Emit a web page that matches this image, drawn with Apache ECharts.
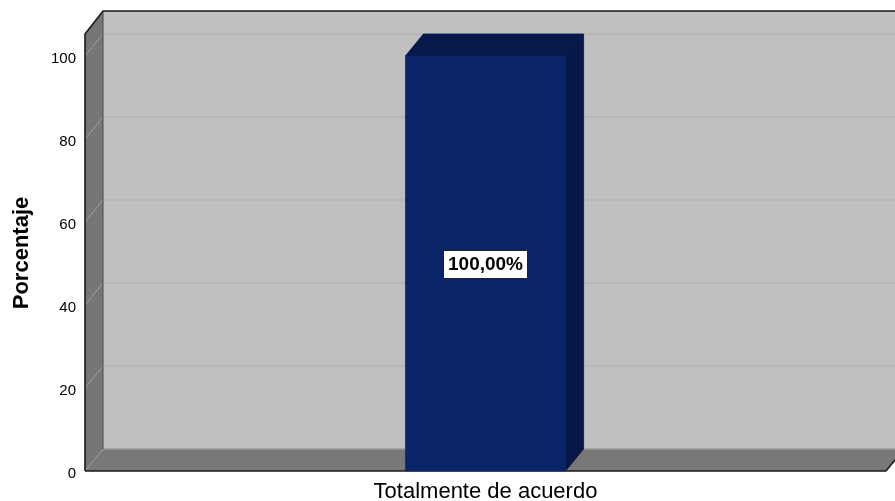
<!DOCTYPE html>
<html>
<head>
<meta charset="utf-8">
<script src="https://cdn.jsdelivr.net/npm/echarts@6/dist/echarts.min.js"></script>
<style>html,body{margin:0;padding:0;background:#fff;}#c{width:895px;height:501px;}</style>
</head>
<body>
<div id="c"></div>
<script>
const categories = ['Totalmente de acuerdo'];
const values = [100];
const valueLabels = ['100,00%'];
const yTicks = [0, 20, 40, 60, 80, 100];
const yTitle = 'Porcentaje';

const FONT = '"Liberation Sans", Arial, sans-serif';
const DX = 18, DY = 22;

const chart = echarts.init(document.getElementById('c'), null, {renderer: 'canvas'});

function wallsRender(params, api) {
  const cs = params.coordSys;
  const L = cs.x, R = cs.x + cs.width, T = cs.y, B = cs.y + cs.height;
  const top = T - DY;
  const ch = [];
  ch.push({type: 'rect', shape: {x: L + DX, y: top - DY - 1, width: R - L + DX, height: B - top + 1}, style: {fill: '#c0c0c0'}});
  ch.push({type: 'polygon', shape: {points: [[L, top], [L + DX, top - DY - 1], [L + DX, B - DY], [L, B]]}, style: {fill: '#767676'}});
  yTicks.forEach(v => {
    if (v === 0) return;
    const y = api.coord([0, v])[1];
    ch.push({type: 'line', shape: {x1: L + DX, y1: y - DY, x2: R + DX, y2: y - DY}, style: {stroke: '#b4b4b4', lineWidth: 1.5}});
    ch.push({type: 'line', shape: {x1: L, y1: y, x2: L + DX, y2: y - DY}, style: {stroke: '#a0a0a0', lineWidth: 1}});
  });
  ch.push({type: 'polygon', shape: {points: [[L, B], [L + DX, B - DY], [R + DX, B - DY], [R, B]]}, style: {fill: '#787878'}});
  ch.push({type: 'line', shape: {x1: L + DX, y1: B - DY, x2: R + DX, y2: B - DY}, style: {stroke: '#9c9c9c', lineWidth: 1.5}});
  ch.push({type: 'line', shape: {x1: L, y1: B, x2: L + DX, y2: B - DY}, style: {stroke: '#9a9a9a', lineWidth: 1}});
  ch.push({type: 'line', shape: {x1: L + DX, y1: top - DY, x2: L + DX, y2: B - DY}, style: {stroke: '#4a4a4a', lineWidth: 1}});
  ch.push({type: 'polyline', shape: {points: [[L, B], [L, top], [L + DX, top - DY - 1], [R + DX, top - DY - 1]]}, style: {stroke: '#1a1a1a', lineWidth: 1.6, fill: null}});
  ch.push({type: 'polyline', shape: {points: [[L, B], [R, B], [R + DX, B - DY]]}, style: {stroke: '#1a1a1a', lineWidth: 1.6, fill: null}});
  return {type: 'group', children: ch};
}

function barRender(params, api) {
  const ci = api.value(0);
  const p = api.coord([ci, api.value(1)]);
  const p0 = api.coord([ci, 0]);
  const w = api.size([1, 0])[0] * 0.2;
  const x1 = p[0] - w / 2, x2 = p[0] + w / 2;
  const yt = p[1], yb = p0[1];
  return {type: 'group', children: [
    {type: 'polygon', shape: {points: [[x2, yt], [x2 + DX, yt - DY], [x2 + DX, yb - DY], [x2, yb]]}, style: {fill: '#061845', stroke: '#061845', lineWidth: 0.8}},
    {type: 'polygon', shape: {points: [[x1, yt], [x1 + DX, yt - DY], [x2 + DX, yt - DY], [x2, yt]]}, style: {fill: '#07194a', stroke: '#07194a', lineWidth: 0.8}},
    {type: 'rect', shape: {x: x1, y: yt, width: w, height: yb - yt}, style: {fill: '#0a246a', stroke: '#0a246a', lineWidth: 0.6}},
    {type: 'text', x: p[0], y: (yt + yb) / 2 + 1, style: {
      text: valueLabels[params.dataIndex], fill: '#000', font: 'bold 19px ' + FONT,
      align: 'center', verticalAlign: 'middle', backgroundColor: '#fff',
      borderColor: '#222', borderWidth: 1, padding: [4, 4, 4, 4]
    }}
  ]};
}

chart.setOption({
  animation: false,
  backgroundColor: '#fff',
  grid: {left: 85, right: 9, top: 56, bottom: 30, containLabel: false, outerBoundsMode: 'none'},
  xAxis: {
    type: 'category', data: categories,
    axisLine: {show: false}, axisTick: {show: false},
    axisLabel: {fontSize: 22, color: '#000', fontFamily: FONT, margin: 10}
  },
  yAxis: {
    type: 'value', min: 0, max: 100, interval: 20,
    name: yTitle, nameLocation: 'middle', nameGap: 52, nameRotate: 90,
    nameTextStyle: {fontSize: 22, fontWeight: 'bold', color: '#000', fontFamily: FONT, padding: [0, 0, 0, 21]},
    axisLine: {show: false}, axisTick: {show: false}, splitLine: {show: false},
    axisLabel: {
      margin: 9, formatter: '{a|{value}}',
      rich: {a: {fontSize: 15, color: '#000', fontFamily: FONT, padding: [6, 0, 0, 0]}}
    }
  },
  series: [
    {type: 'custom', renderItem: wallsRender, data: [[0, 0]], silent: true, z: 1, clip: false},
    {type: 'custom', renderItem: barRender, data: values.map((v, i) => [i, v]), z: 2, clip: false}
  ]
});
</script>
</body>
</html>
